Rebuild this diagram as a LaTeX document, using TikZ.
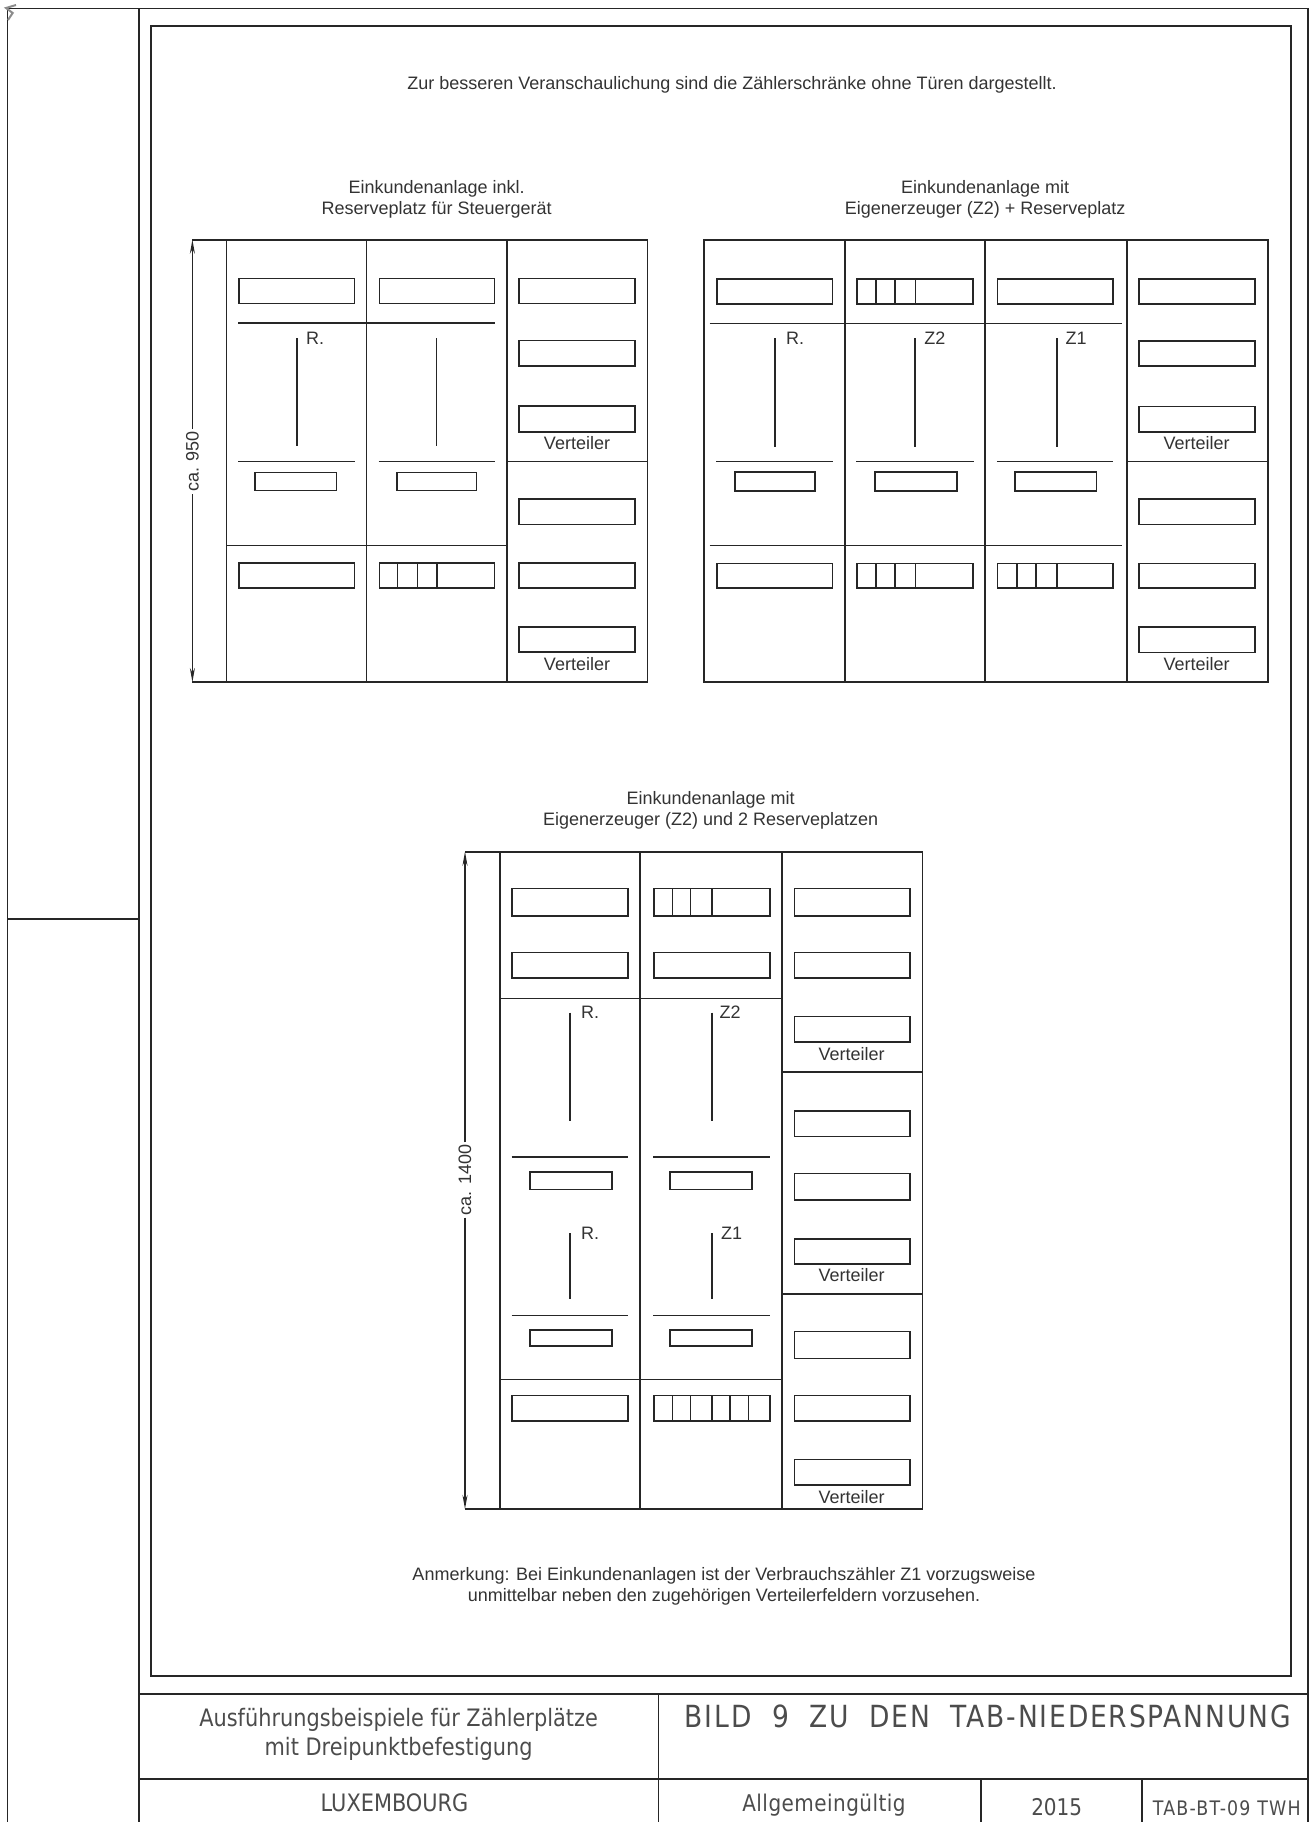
\documentclass[tikz,border=0pt]{standalone}
\usepackage{fontspec}
\setmainfont{Liberation Sans}
\newfontfamily\cadfont[FakeStretch=0.87]{DejaVu Sans}
\newfontfamily\cadmid[FakeStretch=0.87,LetterSpace=2]{DejaVu Sans}
\newfontfamily\cadwide[FakeStretch=0.87,LetterSpace=6]{DejaVu Sans}
\usetikzlibrary{arrows.meta}
\begin{document}
\begin{tikzpicture}[
    x=1pt,y=-1pt,
    >={Stealth[length=14pt,width=5pt]},
    ln/.style={line width=1.6pt,black!85},
    bx/.style={line width=1.6pt,black!85},
    dimln/.style={line width=1.4pt,black!85},
    tx/.style={font=\fontsize{18}{18}\selectfont,black!80,inner sep=0pt},
    sm/.style={tx},
    dimtx/.style={sm,rotate=90,fill=white,inner xsep=2pt,inner ysep=0pt},
    tb/.style={font=\cadfont\fontsize{24}{24}\selectfont,black!70,inner sep=0pt},
]
    \useasboundingbox (0,0) rectangle (1313,1822);
    % ~~~ sheet frame and title block ~~~~~~~~~~~~
    \draw[ln] (7.3,1822) -- (7.3,8.7) -- (1308,8.7) -- (1308,1822);
    \draw[ln] (138.7,8.7) -- (138.7,1822);
    \draw[ln] (7.3,918.7) -- (138.7,918.7);
    \draw[bx] (151,26) rectangle (1290.7,1676);
    \draw[ln] (138.7,1694) -- (1308,1694);
    \draw[ln] (138.7,1779) -- (1308,1779);
    \draw[ln] (658.5,1694) -- (658.5,1822);
    \draw[ln] (981,1779) -- (981,1822);
    \draw[ln] (1141.7,1779) -- (1141.7,1822);
    \draw[line width=2pt,black!45] (16,5) -- (6,8) -- (12.7,13) -- (8,20);
    % ~~~ texts of the sheet ~~~~~~~~~~~~
    \node[tx] (hint) at (732,84.5) {Zur besseren Veranschaulichung sind die Zählerschränke ohne Türen dargestellt.};
    \node[tx,align=center] (titleA) at (436.6,199.5) {Einkundenanlage inkl.\\[3pt]Reserveplatz für Steuergerät};
    \node[tx,align=center] (titleB) at (985.2,199.5) {Einkundenanlage mit\\[3pt]Eigenerzeuger (Z2) + Reserveplatz};
    \node[tx,align=center] (titleC) at (710.7,810.5) {Einkundenanlage mit\\[3pt]Eigenerzeuger (Z2) und 2 Reserveplatzen};
    \node[tx,align=center] (note) at (724,1586.5) {Anmerkung: Bei Einkundenanlagen ist der Verbrauchszähler Z1 vorzugsweise\\[3pt]unmittelbar neben den zugehörigen Verteilerfeldern vorzusehen.};
    \node[tb,align=center] (tbA) at (398.6,1734.5) {Ausführungsbeispiele für Zählerplätze\\[5pt]mit Dreipunktbefestigung};
    \node[tb,font=\cadwide\fontsize{30.5}{32}\selectfont,anchor=east] (tbB) at (1291,1716.5) {BILD\ \ 9\ \ ZU\ \ DEN\ \ TAB-NIEDERSPANNUNG};
    \node[tb] (tbC) at (394.5,1803) {LUXEMBOURG};
    \node[tb,font=\cadmid\fontsize{23}{23}\selectfont] (tbD) at (824,1805) {Allgemeingültig};
    \node[tb,font=\cadfont\fontsize{23}{23}\selectfont] (tbE) at (1056.7,1807) {2015};
    \node[tb,font=\cadwide\fontsize{20}{20}\selectfont] (tbF) at (1226.7,1808) {TAB-BT-09 TWH};
    % ~~~ cabinet A ~~~~~~~~~~~~
    \draw[bx] (226.3,239.7) rectangle (647.3,682);
    \draw[ln] (192.4,239.7) -- (226.3,239.7);
    \draw[ln] (192.4,682) -- (226.3,682);
    \foreach \xx in {366.5,507}{\draw[ln] (\xx,239.7) -- (\xx,682);}
    \draw[ln] (238.4,322.8) -- (495,322.8);
    \draw[ln] (226.3,545.5) -- (507,545.5);
    \draw[ln] (507,461.6) -- (647.3,461.6);
    \foreach \xa/\xb in {238.4/355,378.6/495}{\draw[ln] (\xa,461.6) -- (\xb,461.6);}
    \foreach \xx in {296.9,436.6}{\draw[ln] (\xx,338.4) -- (\xx,446.4);}
    \foreach \xa/\ya/\xb/\yb in {
        238.8/278.6/354.5/303.6, 379.5/278.6/494.6/303.6,
        255/472.3/336.6/490.6, 397/472.3/476.3/490.6,
        238.8/563/354.5/588, 379.5/563/494.6/588,
        519/278.6/635/303.6, 519/340.6/635/366, 519/406/635/431.7,
        519/499/635/524.5, 519/563/635/588, 519/626.8/635/652}{
        \draw[bx] (\xa,\ya) rectangle (\xb,\yb);
    }
    \foreach \xx in {397.3,417.4,437}{\draw[ln] (\xx,563) -- (\xx,588);}
    \node[sm,anchor=west] (rA) at (306,338) {R.};
    \node[sm] (vtAa) at (577,443) {Verteiler};
    \node[sm] (vtAb) at (577,664) {Verteiler};
    \node[dimtx] (dimA) at (192.4,461.5) {ca. 950};
    \coordinate (dimAt) at (192.4,239.7);
    \coordinate (dimAb) at (192.4,682);
    \draw[dimln,->] (dimA.east) -- (dimAt);
    \draw[dimln,->] (dimA.west) -- (dimAb);
    % ~~~ cabinet B ~~~~~~~~~~~~
    \draw[bx] (704.2,239.7) rectangle (1267.8,682);
    \foreach \xx in {844.7,985.2,1126.9}{\draw[ln] (\xx,239.7) -- (\xx,682);}
    \foreach \yy in {323.3,545.4}{\draw[ln] (709.5,\yy) -- (1122,\yy);}
    \draw[ln] (1126.9,461.6) -- (1267.8,461.6);
    \foreach \xa/\xb in {716.3/833,856.4/973.5,996.9/1113.2}{\draw[ln] (\xa,461.6) -- (\xb,461.6);}
    \foreach \xx in {774.9,915,1057}{\draw[ln] (\xx,338.4) -- (\xx,446.8);}
    \foreach \xa/\ya/\xb/\yb in {
        716.7/278.8/832.6/303.7, 856.8/278.8/972.7/303.7, 997.3/278.8/1112.8/303.7,
        734.9/472/814.8/490.7, 875/472/957/490.7, 1015/472/1096.6/490.7,
        716.7/563.3/832.6/588, 856.8/563.3/972.7/588, 997.3/563.3/1112.8/588,
        1139/278.8/1254.9/303.7, 1139/340.9/1254.9/366, 1139/406.5/1254.9/431.8,
        1139/499/1254.9/524.4, 1139/563.3/1254.9/588, 1139/627/1254.9/652.5}{
        \draw[bx] (\xa,\ya) rectangle (\xb,\yb);
    }
    \foreach \xx in {875.8,895.2,915.4}{
        \draw[ln] (\xx,278.8) -- (\xx,303.7);
        \draw[ln] (\xx,563.3) -- (\xx,588);
    }
    \foreach \xx in {1016.7,1035.7,1057}{\draw[ln] (\xx,563.3) -- (\xx,588);}
    \node[sm,anchor=west] (rB) at (785.8,338) {R.};
    \node[sm,anchor=west] (zBb) at (924.2,338) {Z2};
    \node[sm,anchor=west] (zBa) at (1065.5,338) {Z1};
    \node[sm] (vtBa) at (1196.7,443) {Verteiler};
    \node[sm] (vtBb) at (1196.7,664.5) {Verteiler};
    % ~~~ cabinet C ~~~~~~~~~~~~
    \draw[bx] (499.7,851.7) rectangle (922.3,1509);
    \draw[ln] (465,851.7) -- (499.7,851.7);
    \draw[ln] (465,1509) -- (499.7,1509);
    \foreach \xx in {640,781.7}{\draw[ln] (\xx,851.7) -- (\xx,1509);}
    \foreach \yy in {998.6,1379.6}{\draw[ln] (499.7,\yy) -- (781.7,\yy);}
    \foreach \yy in {1071.8,1293.8}{\draw[ln] (781.7,\yy) -- (922.3,\yy);}
    \foreach \yy in {1157,1315.6}{
        \draw[ln] (511.7,\yy) -- (628.3,\yy);
        \draw[ln] (653.3,\yy) -- (770,\yy);
    }
    \foreach \xx in {569.7,711.7}{
        \draw[ln] (\xx,1012.7) -- (\xx,1120.8);
        \draw[ln] (\xx,1233) -- (\xx,1298.7);
    }
    \foreach \ya/\yb in {888.6/915.7,952.6/977.8,1395.6/1420.8}{
        \draw[bx] (512,\ya) rectangle (627.7,\yb);
        \draw[bx] (654,\ya) rectangle (769.7,\yb);
    }
    \foreach \ya/\yb in {1171.7/1189.6,1329.7/1346}{
        \draw[bx] (530,\ya) rectangle (611.7,\yb);
        \draw[bx] (670,\ya) rectangle (751.7,\yb);
    }
    \foreach \ya/\yb in {888.6/915.7,952.6/977.8,1016.5/1041.8,1111/1136.3,1173.6/1199.8,
        1239/1264,1331.6/1358.3,1395.6/1420.8,1459.6/1484.8}{
        \draw[bx] (794.3,\ya) rectangle (910,\yb);
    }
    \foreach \xx in {672.3,690.3,712}{\draw[ln] (\xx,888.6) -- (\xx,915.7);}
    \foreach \xx in {672.3,690.3,712,730,748.3}{\draw[ln] (\xx,1395.6) -- (\xx,1420.8);}
    \node[sm,anchor=west] (rCa) at (581,1012.7) {R.};
    \node[sm,anchor=west] (zCb) at (719.5,1012.7) {Z2};
    \node[sm,anchor=west] (rCb) at (581,1233.7) {R.};
    \node[sm,anchor=west] (zCa) at (721,1233.7) {Z1};
    \node[sm] (vtCa) at (851.7,1054) {Verteiler};
    \node[sm] (vtCb) at (851.7,1275) {Verteiler};
    \node[sm] (vtCc) at (851.7,1497.4) {Verteiler};
    \node[dimtx] (dimC) at (465,1180) {ca. 1400};
    \coordinate (dimCt) at (465,851.7);
    \coordinate (dimCb) at (465,1509);
    \draw[dimln,->] (dimC.east) -- (dimCt);
    \draw[dimln,->] (dimC.west) -- (dimCb);
\end{tikzpicture}
\end{document}
